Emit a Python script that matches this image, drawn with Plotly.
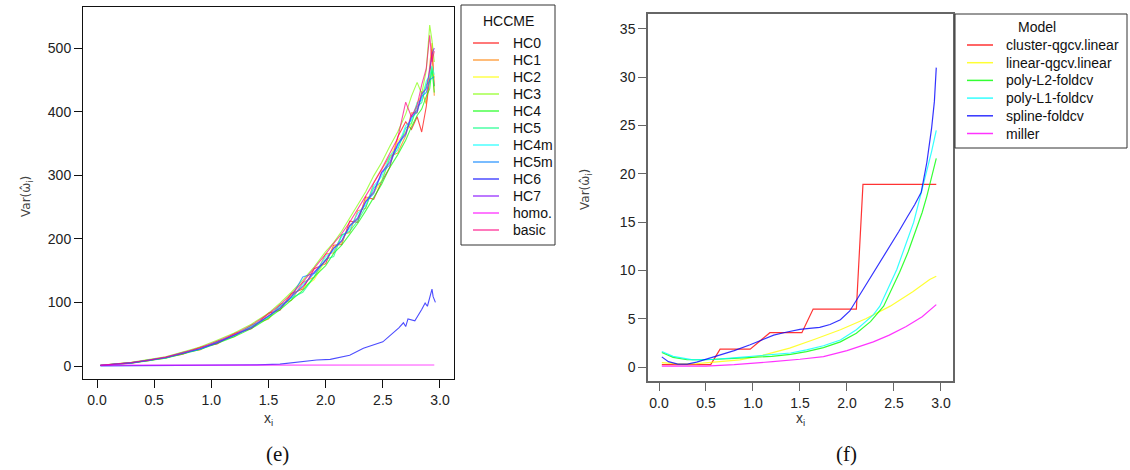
import plotly.graph_objects as go

W, H = 1130, 470

# ---------------- left panel: HCCME variance estimates ----------------
x_grid = [0.03, 0.15, 0.3, 0.45, 0.6, 0.75, 0.9, 1.05, 1.2, 1.35, 1.5, 1.6, 1.7, 1.8, 1.9,
          2.0, 2.07, 2.14, 2.21, 2.28, 2.35, 2.42, 2.49, 2.56, 2.63, 2.7, 2.75, 2.8, 2.84,
          2.88, 2.91, 2.93, 2.95]

hc0 = [1.2, 2.9, 5.6, 8.4, 13.9, 18.6, 29.4, 34.8, 51.0, 58.5, 83.2, 87.5, 114.0, 121.0, 153.0,
       161.0, 190.0, 191.0, 228.0, 226.0, 266.0, 262.0, 290.0, 312.0, 360.0, 384.0, 372.0, 392.0,
       368.0, 408.0, 452.0, 498.0, 440.0]
hc1 = [0.9, 2.4, 4.6, 9.6, 12.2, 21.5, 25.3, 39.1, 45.9, 64.5, 74.0, 96.8, 103.5, 131.5, 140.0,
       176.0, 178.0, 206.0, 210.0, 244.0, 248.0, 288.0, 308.0, 330.0, 335.0, 362.0, 398.0, 398.0,
       432.0, 412.0, 472.0, 508.0, 425.0]
hc2 = [1.0, 2.3, 5.3, 8.7, 13.5, 19.4, 27.9, 36.1, 49.5, 60.4, 79.2, 89.6, 111.5, 123.0, 136.0,
       166.0, 188.0, 194.0, 222.0, 231.0, 262.0, 272.0, 292.0, 328.0, 354.0, 368.0, 380.0, 414.0,
       426.0, 444.0, 458.0, 472.0, 452.0]
hc3 = [1.3, 3.1, 5.9, 10.1, 14.6, 22.0, 29.8, 40.6, 52.0, 65.8, 83.0, 99.0, 116.0, 135.0, 156.0,
       180.0, 194.0, 212.0, 233.0, 252.0, 274.0, 299.0, 320.0, 345.0, 368.0, 396.0, 424.0, 446.0,
       428.0, 465.0, 536.0, 512.0, 478.0]
hc4 = [0.8, 2.1, 4.5, 8.2, 12.2, 18.9, 26.0, 35.6, 46.2, 58.8, 75.5, 88.5, 104.2, 119.0, 140.0,
       158.0, 177.0, 190.0, 207.0, 224.0, 244.0, 264.0, 286.0, 312.0, 332.0, 355.0, 376.0, 394.0,
       404.0, 424.0, 436.0, 468.0, 430.0]
hc5 = [1.1, 2.6, 5.2, 9.3, 12.8, 20.5, 26.5, 37.9, 47.6, 62.0, 77.0, 93.8, 107.0, 116.0, 140.0,
       168.0, 172.0, 206.0, 212.0, 228.0, 250.0, 280.0, 290.0, 326.0, 340.0, 374.0, 382.0, 408.0,
       414.0, 442.0, 448.0, 466.0, 440.0]
hc4m = [1.0, 2.7, 5.1, 9.4, 13.2, 21.2, 27.0, 38.4, 48.0, 62.9, 77.8, 94.4, 106.8, 128.5, 145.0,
        172.0, 181.0, 203.5, 216.0, 240.0, 253.0, 283.0, 298.0, 330.0, 344.0, 378.0, 386.0, 414.0,
        418.0, 448.0, 456.0, 472.0, 458.0]
hc5m = [0.9, 2.3, 4.9, 8.8, 13.0, 19.7, 26.6, 36.4, 48.3, 60.0, 78.4, 90.4, 108.6, 140.0, 146.0,
        166.0, 185.0, 196.0, 220.0, 231.0, 258.0, 271.0, 304.0, 316.0, 348.0, 364.0, 391.0, 399.0,
        424.0, 430.0, 450.0, 452.0, 455.0]
hc7 = [1.1, 2.5, 5.0, 9.1, 13.4, 20.1, 27.5, 36.8, 48.8, 60.6, 78.9, 91.4, 109.5, 125.0, 148.0,
       166.0, 185.5, 197.0, 221.0, 233.0, 259.0, 274.0, 305.0, 320.0, 350.0, 366.0, 394.0, 402.0,
       428.0, 436.0, 466.0, 490.0, 500.0]
basic = [1.2, 2.9, 5.5, 9.6, 14.0, 21.3, 28.6, 38.9, 50.2, 63.9, 81.8, 96.0, 113.0, 131.8, 153.0,
         176.0, 193.0, 208.0, 226.0, 246.0, 266.0, 288.0, 310.0, 334.0, 358.0, 415.0, 392.0, 410.0,
         442.0, 468.0, 520.0, 478.0, 495.0]

x_hc6 = [0.03, 0.3, 0.6, 0.9, 1.2, 1.4, 1.6, 1.7, 1.8, 1.92, 2.04, 2.12, 2.21, 2.33, 2.42, 2.5,
         2.59, 2.64, 2.68, 2.70, 2.72, 2.78, 2.84, 2.87, 2.89, 2.91, 2.93, 2.94, 2.96]
hc6 = [0.2, 0.3, 0.5, 0.8, 1.2, 1.8, 3.0, 5.0, 7.0, 9.5, 10.5, 13.0, 17.0, 28.0, 33.0, 38.0,
       52.0, 60.0, 68.0, 62.0, 74.0, 71.0, 89.0, 99.0, 94.0, 107.0, 121.0, 109.0, 100.0]

x_homo = [0.03, 0.75, 1.5, 2.25, 2.95]
homo = [1.4, 1.5, 1.5, 1.6, 1.6]

hccme_names = ["HC0", "HC1", "HC2", "HC3", "HC4", "HC5", "HC4m", "HC5m", "HC6", "HC7",
               "homo.", "basic"]
hccme_x = [x_grid] * 8 + [x_hc6, x_grid, x_homo, x_grid]
hccme_y = [hc0, hc1, hc2, hc3, hc4, hc5, hc4m, hc5m, hc6, hc7, homo, basic]
hccme_rgb = ["255,0,0", "255,128,0", "255,255,0", "128,255,0", "0,255,0", "0,255,128",
             "0,255,255", "0,128,255", "0,0,255", "128,0,255", "255,0,255", "255,0,128"]

# ---------------- right panel: variance models ----------------
x_cluster = [0.03, 0.55, 0.65, 0.97, 1.18, 1.52, 1.64, 2.10, 2.17, 2.95]
v_cluster = [0.25, 0.25, 1.85, 1.85, 3.55, 3.55, 6.0, 6.0, 18.9, 18.9]

x_linear = [0.03, 0.2, 0.4, 0.6, 0.86, 1.1, 1.39, 1.65, 1.93, 2.2, 2.46, 2.7, 2.88, 2.95]
v_linear = [0.45, 0.32, 0.35, 0.5, 0.73, 1.2, 1.95, 2.85, 3.85, 5.0, 6.3, 7.8, 9.06, 9.4]

x_poly2 = [0.03, 0.15, 0.3, 0.5, 0.8, 1.0, 1.2, 1.4, 1.57, 1.75, 1.93, 2.1, 2.25, 2.39,
           2.56, 2.65, 2.74, 2.8, 2.85, 2.91, 2.95]
v_poly2 = [1.5, 1.0, 0.75, 0.75, 0.9, 1.0, 1.1, 1.3, 1.6, 2.0, 2.6, 3.5, 4.7, 6.3,
           9.8, 11.9, 14.3, 16.0, 17.7, 20.2, 21.6]

x_poly1 = [0.03, 0.15, 0.36, 0.6, 0.86, 1.0, 1.21, 1.4, 1.57, 1.75, 1.93, 2.1, 2.28, 2.35,
           2.53, 2.62, 2.71, 2.81, 2.86, 2.90, 2.95]
v_poly1 = [1.6, 1.1, 0.73, 0.8, 1.0, 1.1, 1.25, 1.45, 1.77, 2.2, 2.8, 3.85, 5.4, 6.3,
           10.1, 12.5, 15.0, 18.8, 20.6, 22.3, 24.5]

x_spline = [0.03, 0.1, 0.2, 0.3, 0.4, 0.5, 0.65, 0.8, 0.97, 1.1, 1.22, 1.35, 1.5, 1.6, 1.71,
            1.82, 1.93, 2.03, 2.12, 2.21, 2.33, 2.46, 2.55, 2.64, 2.72, 2.79, 2.85, 2.90, 2.93,
            2.95]
v_spline = [1.05, 0.55, 0.3, 0.3, 0.5, 0.8, 1.2, 1.7, 2.3, 2.8, 3.3, 3.6, 3.9, 4.0, 4.1,
            4.4, 4.9, 5.8, 7.2, 8.7, 10.5, 12.5, 14.0, 15.5, 16.8, 18.1, 21.2, 24.7, 27.5, 31.0]

x_miller = [0.03, 0.3, 0.5, 0.8, 1.0, 1.21, 1.5, 1.75, 2.0, 2.28, 2.45, 2.63, 2.8, 2.95]
v_miller = [0.1, 0.08, 0.1, 0.25, 0.38, 0.55, 0.8, 1.07, 1.7, 2.6, 3.3, 4.2, 5.2, 6.46]

model_names = ["cluster-qgcv.linear", "linear-qgcv.linear", "poly-L2-foldcv", "poly-L1-foldcv",
               "spline-foldcv", "miller"]
model_x = [x_cluster, x_linear, x_poly2, x_poly1, x_spline, x_miller]
model_y = [v_cluster, v_linear, v_poly2, v_poly1, v_spline, v_miller]
model_rgb = ["255,0,0", "255,255,0", "0,255,0", "0,255,255", "0,0,255", "255,0,255"]

x_ticks = [0.0, 0.5, 1.0, 1.5, 2.0, 2.5, 3.0]
y_ticks_left = [0, 100, 200, 300, 400, 500]
y_ticks_right = [0, 5, 10, 15, 20, 25, 30, 35]

fig = go.Figure()

for name, xs, ys, rgb in zip(hccme_names, hccme_x, hccme_y, hccme_rgb):
    fig.add_trace(go.Scatter(x=xs, y=ys, mode="lines", name=name, showlegend=False,
                             line=dict(color=f"rgba({rgb},0.7)", width=1.1),
                             xaxis="x", yaxis="y"))

for name, xs, ys, rgb in zip(model_names, model_x, model_y, model_rgb):
    fig.add_trace(go.Scatter(x=xs, y=ys, mode="lines", name=name, showlegend=False,
                             line=dict(color=f"rgba({rgb},0.8)", width=1.2),
                             xaxis="x2", yaxis="y2"))


def px(xp):
    return xp / W


def py(yp):
    return 1 - yp / H


tick_font = dict(family="Liberation Sans, Arial, sans-serif", size=14, color="#222")


def axis_style(domain, rng, ticks, text, color, width, anchor):
    return dict(domain=domain, range=rng, tickmode="array", tickvals=ticks, ticktext=text,
                showline=True, mirror=True, linecolor=color, linewidth=width,
                ticks="outside", ticklen=8, tickcolor=color, tickwidth=1,
                showgrid=False, zeroline=False, tickfont=tick_font, fixedrange=True,
                anchor=anchor)


x_text = [f"{t:.1f}" for t in x_ticks]
fig.update_layout(
    width=W, height=H,
    margin=dict(l=0, r=0, t=0, b=0),
    paper_bgcolor="white", plot_bgcolor="white",
    xaxis=axis_style([px(83), px(454)], [-0.1225, 3.1225], x_ticks, x_text, "#111", 1, "y"),
    yaxis=axis_style([py(379), py(7)], [-20.4, 564.5], y_ticks_left,
                     [str(t) for t in y_ticks_left], "#111", 1, "x"),
    xaxis2=axis_style([px(648), px(953)], [-0.117, 3.128], x_ticks, x_text, "#666", 1.5, "y2"),
    yaxis2=axis_style([py(381), py(14)], [-1.45, 36.55], y_ticks_right,
                      [str(t) for t in y_ticks_right], "#666", 1.5, "x2"),
)

annotations = []
shapes = []


def note(xc, yc, text, font, **kw):
    d = dict(x=px(xc), y=py(yc), xref="paper", yref="paper", text=text, showarrow=False,
             xanchor="center", yanchor="middle", font=font)
    d.update(kw)
    annotations.append(d)


# axis titles
for xc, yc in [(27, 197), (586, 190)]:
    note(xc, yc, "Var(\u03c9\u0302<sub>i</sub>)",
         dict(family="DejaVu Sans, sans-serif", size=12, color="#444"), textangle=-90)
for xc in [268, 800]:
    note(xc, 419, "x<sub>i</sub>",
         dict(family="Liberation Sans, Arial, sans-serif", size=14, color="#333"))

# panel captions
for xc, label in [(277, "(e)"), (846, "(f)")]:
    note(xc, 454, label, dict(family="Liberation Serif, serif", size=21, color="#111"))

legend_font = dict(family="Liberation Sans, Arial, sans-serif", size=14, color="#111")


def add_legend(box, title, title_xy, names, rgbs, alpha, y0, dy, line_x, text_x):
    shapes.append(dict(type="rect", xref="paper", yref="paper",
                       x0=px(box[0]), x1=px(box[1]), y0=py(box[3]), y1=py(box[2]),
                       line=dict(color="#333", width=1), fillcolor="white"))
    note(title_xy[0], title_xy[1], title, legend_font)
    for i, (nm, rgb) in enumerate(zip(names, rgbs)):
        yy = y0 + i * dy
        shapes.append(dict(type="line", xref="paper", yref="paper",
                           x0=px(line_x[0]), x1=px(line_x[1]), y0=py(yy), y1=py(yy),
                           line=dict(color=f"rgba({rgb},{alpha})", width=1.5)))
        note(text_x, yy, nm, legend_font, xanchor="left")


add_legend((461, 555, 5, 245), "HCCME", (508, 21), hccme_names, hccme_rgb, 0.7,
           43, 17.0, (473, 499), 511)
add_legend((955, 1127, 14, 148), "Model", (1037, 27), model_names, model_rgb, 0.8,
           45, 17.7, (967, 993), 1004)

fig.update_layout(annotations=annotations, shapes=shapes)

fig.write_html("out.html")
